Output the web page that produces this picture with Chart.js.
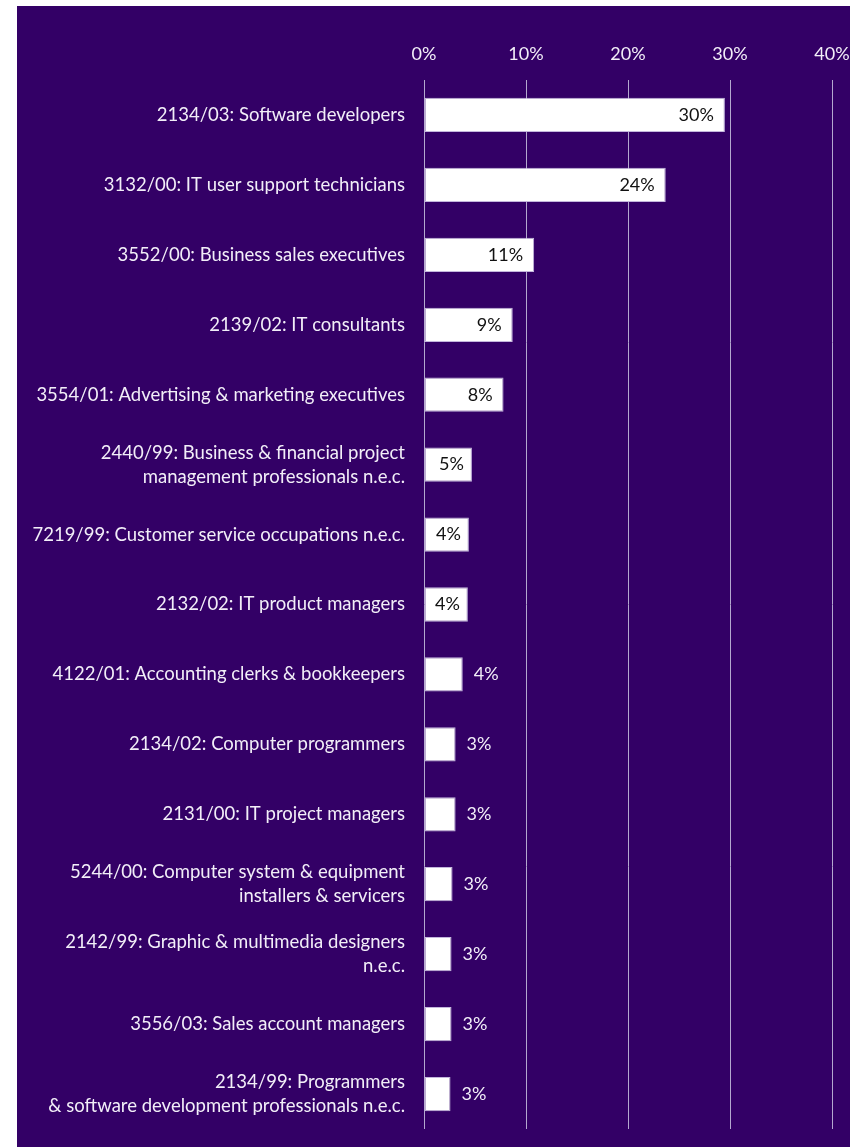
<!DOCTYPE html>
<html>
<head>
<meta charset="utf-8">
<script src="https://cdn.jsdelivr.net/npm/chart.js@4/dist/chart.umd.min.js"></script>
<style>
  html, body { margin: 0; padding: 0; background: #ffffff; }
  .panel {
    position: absolute;
    left: 17px;
    top: 6px;
    width: 833px;
    height: 1141px;
    background: #330066;
  }
</style>
</head>
<body>
<div class="panel">
  <canvas id="occupations" width="833" height="1141"></canvas>
</div>
<script>
// share of job postings by occupation code
const occupations = [
  "2134/03: Software developers",
  "3132/00: IT user support technicians",
  "3552/00: Business sales executives",
  "2139/02: IT consultants",
  "3554/01: Advertising & marketing executives",
  ["2440/99: Business & financial project", "management professionals n.e.c."],
  "7219/99: Customer service occupations n.e.c.",
  "2132/02: IT product managers",
  "4122/01: Accounting clerks & bookkeepers",
  "2134/02: Computer programmers",
  "2131/00: IT project managers",
  ["5244/00: Computer system & equipment", "installers & servicers"],
  ["2142/99: Graphic & multimedia designers", "n.e.c."],
  "3556/03: Sales account managers",
  ["2134/99: Programmers", "& software development professionals n.e.c."]
];
const shares = [29.5, 23.7, 10.8, 8.7, 7.8, 4.7, 4.4, 4.3, 3.8, 3.1, 3.1, 2.8, 2.7, 2.7, 2.6];
const axisTicks = [0, 10, 20, 30, 40];

const FONT = "Lato, 'Open Sans', sans-serif";

// value labels: inside the bar end for the longer bars, just past it for short ones
const barLabels = {
  id: "barLabels",
  afterDatasetsDraw(chart) {
    const ctx = chart.ctx;
    const meta = chart.getDatasetMeta(0);
    ctx.save();
    ctx.font = "18px " + FONT;
    ctx.textBaseline = "middle";
    meta.data.forEach((bar, i) => {
      const v = shares[i];
      const text = Math.round(v) + "%";
      if (v >= 4) {
        ctx.fillStyle = "#111111";
        ctx.textAlign = "right";
        ctx.fillText(text, bar.x - (v < 5 ? 8 : 11), bar.y);
      } else {
        ctx.fillStyle = "#f2eef8";
        ctx.textAlign = "left";
        ctx.fillText(text, bar.x + 11, bar.y);
      }
    });
    ctx.restore();
  }
};

new Chart(document.getElementById("occupations"), {
  type: "bar",
  data: {
    labels: occupations,
    datasets: [{
      data: shares,
      backgroundColor: "#ffffff",
      borderColor: "#c3b6dc",
      borderWidth: 1,
      borderSkipped: false,
      barPercentage: 0.49,
      categoryPercentage: 1
    }]
  },
  options: {
    indexAxis: "y",
    responsive: false,
    animation: false,
    layout: { padding: { top: 0, right: 18, bottom: 18, left: 0 } },
    plugins: {
      legend: { display: false },
      tooltip: { enabled: false }
    },
    scales: {
      x: {
        position: "top",
        min: 0,
        max: 40,
        afterBuildTicks(axis) {
          axis.ticks = axisTicks.map(v => ({ value: v }));
        },
        afterFit(axis) {
          axis.height = 74;
          axis.paddingLeft = 0;
          axis.paddingRight = 0;
        },
        border: { display: false },
        grid: { color: "#b4a8cf", lineWidth: 1, drawTicks: false },
        ticks: {
          color: "#f2eef8",
          font: { family: FONT, size: 18 },
          padding: 15,
          callback: v => v + "%"
        }
      },
      y: {
        afterFit(axis) {
          axis.width = 407;
          axis.paddingTop = 0;
          axis.paddingBottom = 0;
        },
        border: { display: false },
        grid: { display: false, drawTicks: false },
        ticks: {
          color: "#f2eef8",
          font: { family: FONT, size: 18.5, lineHeight: "24px" },
          padding: 19
        }
      }
    }
  },
  plugins: [barLabels]
});
</script>
</body>
</html>
